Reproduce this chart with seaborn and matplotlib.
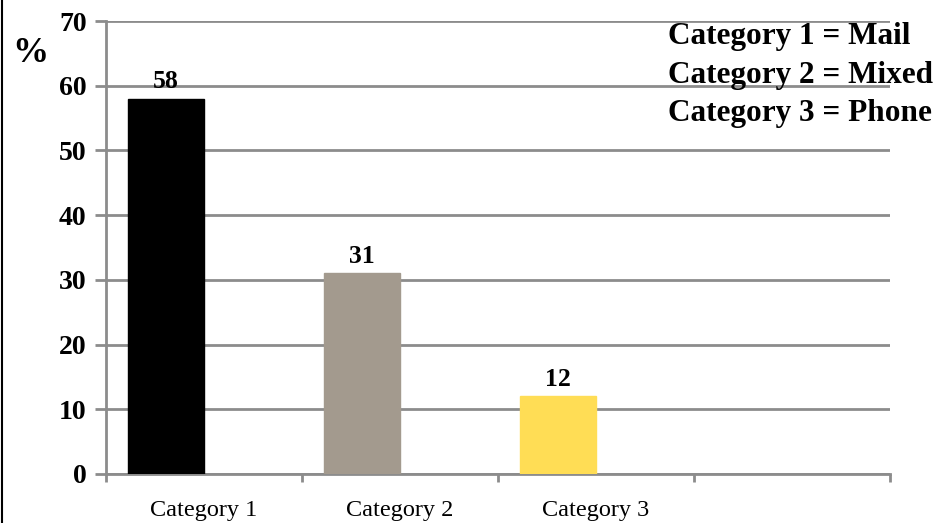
import matplotlib
matplotlib.use("Agg")
import matplotlib.pyplot as plt
from matplotlib.lines import Line2D
import pandas as pd
import seaborn as sns

# data
categories = ["Category 1", "Category 2", "Category 3"]
percent = [58, 31, 12]
bar_colors = ["#000000", "#A39A8E", "#FFDD55"]
key_lines = ["Category 1 = Mail", "Category 2 = Mixed", "Category 3 = Phone"]
y_ticks = [0, 10, 20, 30, 40, 50, 60, 70]

sns.set_theme(style="white")
plt.rcParams["font.family"] = ["Liberation Serif", "DejaVu Serif"]
plt.rcParams["text.color"] = "black"
plt.rcParams["xtick.color"] = "black"
plt.rcParams["ytick.color"] = "black"

# original looks like a two-series clustered chart with the second series empty
df = pd.DataFrame({"category": categories, "percent": percent,
                   "series": ["s1"] * len(categories)})

fig = plt.figure(figsize=(9.41, 5.23), dpi=100)
ax = fig.add_axes([0.1126, 0.0937, 0.8332, 0.8661])

sns.barplot(data=df, x="category", y="percent", hue="series",
            hue_order=["s1", "s2"], dodge=True, width=0.78,
            legend=False, ax=ax, saturation=1, zorder=3)
for patch, col in zip(ax.patches, bar_colors):
    patch.set_facecolor(col)
    patch.set_edgecolor(col)

grid_col = "#8C8C8C"
ax.set_xlim(-0.5, 3.5)
ax.set_ylim(0, 70)
ax.set_yticks(y_ticks)
ax.yaxis.grid(True, color=grid_col, linewidth=2, zorder=0)
ax.set_axisbelow(True)

for side in ["top", "right"]:
    ax.spines[side].set_visible(False)
for side in ["left", "bottom"]:
    ax.spines[side].set_color(grid_col)
    ax.spines[side].set_linewidth(2)

# tick labels at slot centres, tick marks at slot boundaries
ax.set_xticks(range(len(categories)))
ax.set_xticklabels(categories, fontsize=17.5)
ax.set_xticks([-0.5, 0.5, 1.5, 2.5, 3.5], minor=True)
ax.tick_params(axis="x", which="major", length=0, pad=19)
ax.tick_params(axis="x", which="minor", length=6, width=2, color=grid_col,
               bottom=True, direction="out")
ax.tick_params(axis="y", length=8, width=2, color=grid_col, left=True,
               direction="out", labelsize=20, pad=6)
for lab in ax.get_yticklabels():
    lab.set_fontweight("bold")

ax.set_xlabel("")
ax.set_ylabel("")

for cont in ax.containers:
    if len(cont) and cont.datavalues is not None:
        ax.bar_label(cont, fmt="%d", padding=4, fontsize=18.5,
                     fontweight="bold")

fig.text(12 / 941, 1 - 54 / 523, "%", fontsize=26, fontweight="bold",
         va="center", ha="left")

fig.text(668 / 941, 1 - 22 / 523, "\n".join(key_lines), fontsize=22.5,
         fontweight="bold", va="top", ha="left", linespacing=1.44)

# thin black border along the left edge
fig.add_artist(Line2D([0.0025, 0.0025], [0, 1], color="black",
                      linewidth=1.5, transform=fig.transFigure))

fig.savefig("out.png", dpi=100)
